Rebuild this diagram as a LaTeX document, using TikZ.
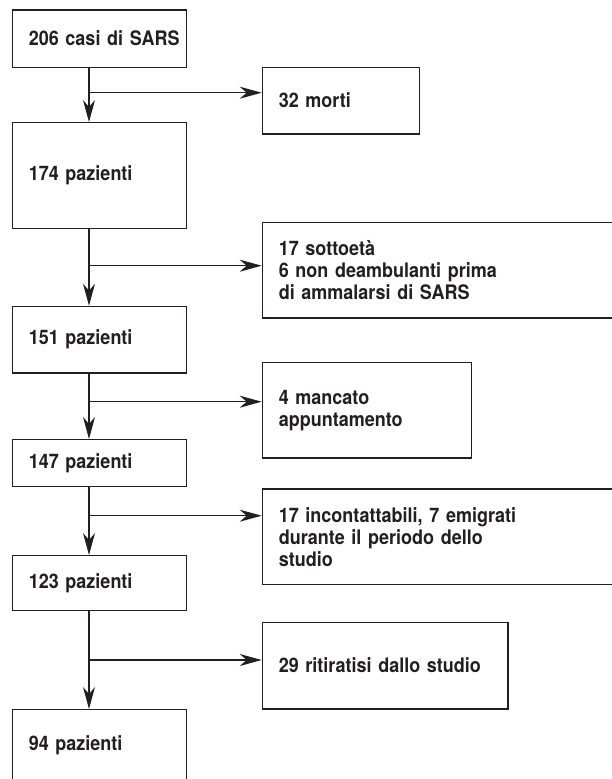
\documentclass[tikz,border=0pt]{standalone}
\usepackage{fontspec}
\setmainfont{TeX Gyre Heros}[FakeStretch=0.9]
\usetikzlibrary{arrows.meta}
\definecolor{ink}{RGB}{35,31,32}
\tikzset{
  box/.style={draw=ink, text=ink, line width=1.2pt, rectangle, anchor=north west,
    inner xsep=16.5pt, inner ysep=0pt, align=left,
    font=\bfseries\fontsize{20}{22}\selectfont},
  arr/.style={draw=ink, line width=1.2pt, -{Stealth[length=22pt,width=12pt,inset=7pt]}}
}
\begin{document}
\begin{tikzpicture}[x=1pt, y=1pt]
    \useasboundingbox (0,0) rectangle (612,-779);
    \coordinate (spine) at (89,0); % linea verticale di sinistra
    % colonna di sinistra
    \node [box, text width=141.3pt, minimum height=57.4pt]  (p206) at (11.7,-9.3)  {\mbox{206 casi di SARS}};
    \node [box, text width=141.3pt, minimum height=105.7pt] (p174) at (11.7,-122)  {174 pazienti};
    \node [box, text width=141.3pt, minimum height=66.6pt]  (p151) at (11.7,-305.7) {151 pazienti};
    \node [box, text width=141.3pt, minimum height=47pt]    (p147) at (11.7,-439)  {147 pazienti};
    \node [box, text width=141.3pt, minimum height=55pt]    (p123) at (11.7,-555)  {123 pazienti};
    \node [box, text width=141.3pt, minimum height=72pt]    (p94)  at (11.7,-709)  {94 pazienti};
    % colonna di destra (esclusi)
    \node [box, text width=124.3pt, minimum height=66.6pt] (x32)  at (261.7,-66.7)  {32 morti};
    \node [box, text width=320.3pt, minimum height=95.6pt] (x23)  at (261.7,-221.7) {17 sottoetà\\6 non deambulanti prima\\di ammalarsi di SARS};
    \node [box, text width=176pt,   minimum height=95.6pt] (x4)   at (261.7,-361.7) {4 mancato\\appuntamento};
    \node [box, text width=320.3pt, minimum height=95.7pt] (x24)  at (261.7,-488.3) {17 incontattabili, 7 emigrati\\durante il periodo dello\\studio};
    \node [box, text width=212.6pt, minimum height=86.6pt] (x29)  at (261.7,-621.7) {29 ritiratisi dallo studio};
    % punti di diramazione
    \coordinate (j1) at (89,-92.7);
    \coordinate (j2) at (89,-265.7);
    \coordinate (j3) at (89,-401.7);
    \coordinate (j4) at (89,-515.7);
    \coordinate (j5) at (89,-660);
    \foreach \a/\b in {p206/p174, p174/p151, p151/p147, p147/p123, p123/p94} {
        \draw [arr] (\a.south -| spine) -- (\b.north -| spine);
    }
    \foreach \j/\x in {j1/x32, j2/x23, j3/x4, j4/x24, j5/x29} {
        \draw [arr] (\j) -- (\j -| \x.west);
    }
\end{tikzpicture}
\end{document}
